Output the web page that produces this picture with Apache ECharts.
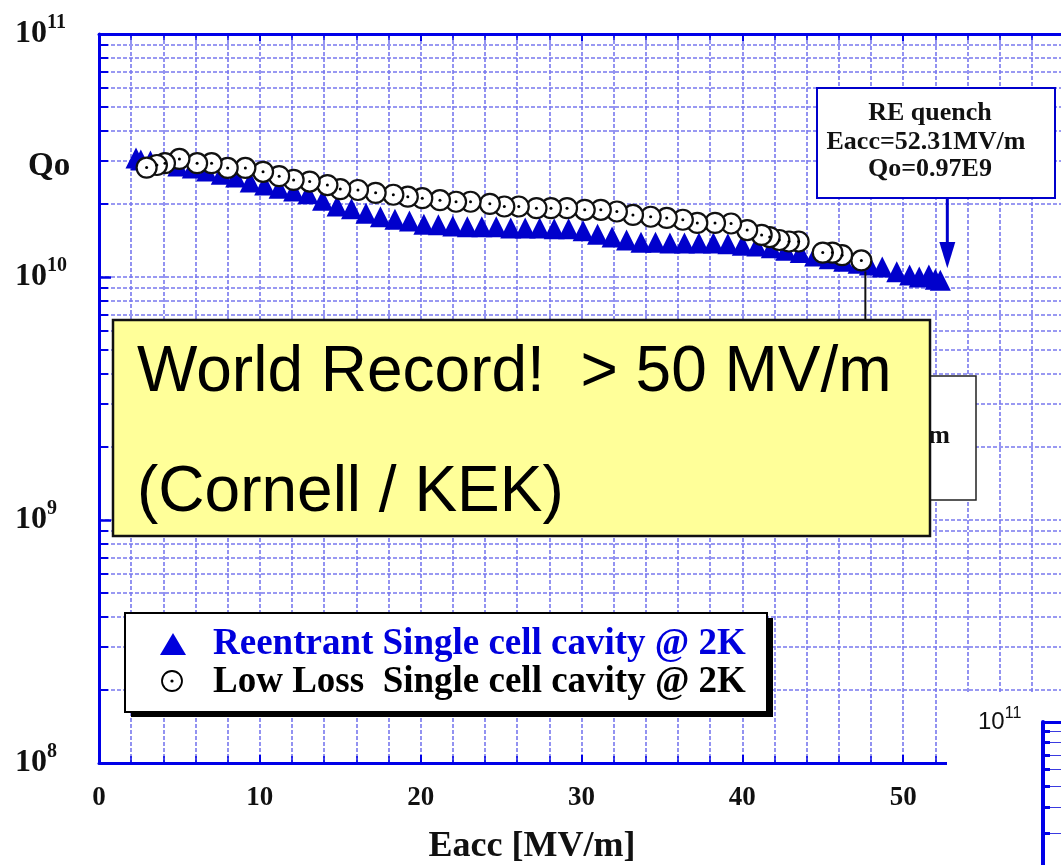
<!DOCTYPE html>
<html>
<head>
<meta charset="utf-8">
<title>Qo vs Eacc</title>
<script src="https://cdn.jsdelivr.net/npm/echarts@6/dist/echarts.min.js"></script>
<style>
  html, body { margin: 0; padding: 0; background: #fff; }
  #chart { width: 1061px; height: 865px; }
</style>
</head>
<body>
<div id="chart"></div>
<script>
// Reentrant single cell cavity @ 2K: Eacc [MV/m] and Qo
const reentrantEacc = [2.3, 2.6, 3.2, 4.0, 4.9, 5.8, 6.7, 7.6, 8.5, 9.4, 10.3, 11.2, 12.1, 13.0, 13.9, 14.8, 15.7, 16.6, 17.5, 18.4,
  19.3, 20.2, 21.1, 22.0, 22.9, 23.8, 24.7, 25.6, 26.5, 27.4, 28.3, 29.2, 30.1, 31.0, 31.9, 32.8, 33.7, 34.6, 35.5, 36.4,
  37.3, 38.2, 39.1, 40.0, 40.9, 41.8, 42.7, 43.6, 44.5, 45.4, 46.3, 47.2, 47.9, 48.7, 49.6, 50.4, 51.0, 51.6, 52.0, 52.31];
const reentrantQ = [3.09e10, 3.03e10, 3.00e10, 2.97e10, 2.86e10, 2.81e10, 2.73e10, 2.65e10, 2.58e10, 2.46e10, 2.39e10, 2.32e10,
  2.26e10, 2.20e10, 2.07e10, 1.96e10, 1.91e10, 1.83e10, 1.77e10, 1.73e10, 1.70e10, 1.65e10, 1.64e10, 1.62e10, 1.61e10,
  1.61e10, 1.61e10, 1.59e10, 1.59e10, 1.59e10, 1.58e10, 1.58e10, 1.55e10, 1.50e10, 1.46e10, 1.42e10, 1.39e10, 1.39e10,
  1.38e10, 1.38e10, 1.38e10, 1.38e10, 1.37e10, 1.35e10, 1.34e10, 1.32e10, 1.29e10, 1.26e10, 1.22e10, 1.19e10, 1.16e10,
  1.14e10, 1.12e10, 1.10e10, 1.05e10, 1.02e10, 1.00e10, 1.02e10, 0.98e10, 0.97e10];

// Low loss single cell cavity @ 2K
const lowLossEacc = [2.96, 3.6, 4.1, 5.0, 6.1, 7.0, 8.0, 9.1, 10.2, 11.2, 12.1, 13.1, 14.2, 15.0, 16.1, 17.2, 18.3, 19.2, 20.1,
  21.2, 22.2, 23.1, 24.3, 25.2, 26.1, 27.2, 28.1, 29.1, 30.2, 31.2, 32.2, 33.2, 34.3, 35.3, 36.3, 37.2, 38.3, 39.3, 40.3,
  41.2, 41.7, 42.3, 42.9, 43.5, 45.0, 45.6, 46.2, 47.4];
const lowLossQ = [2.82e10, 2.89e10, 2.94e10, 3.06e10, 2.94e10, 2.94e10, 2.81e10, 2.81e10, 2.71e10, 2.60e10, 2.51e10, 2.47e10,
  2.39e10, 2.30e10, 2.28e10, 2.22e10, 2.18e10, 2.14e10, 2.11e10, 2.07e10, 2.04e10, 2.04e10, 2.00e10, 1.95e10, 1.95e10,
  1.92e10, 1.92e10, 1.92e10, 1.89e10, 1.89e10, 1.86e10, 1.80e10, 1.77e10, 1.75e10, 1.72e10, 1.67e10, 1.67e10, 1.66e10,
  1.56e10, 1.49e10, 1.46e10, 1.42e10, 1.40e10, 1.40e10, 1.26e10, 1.26e10, 1.23e10, 1.17e10];

// Axis ranges
const eaccRange = [0, 60];
const eaccStep = 10;
const qoRange = [1e8, 1e11];

const serif = '"Liberation Serif", "Times New Roman", serif';
const sans = '"Liberation Sans", Arial, sans-serif';
const AXIS_BLUE = '#0000e8';
const GRID_BLUE = '#7878ee';
const MARK_BLUE = '#0000cc';

const gridLine = { color: GRID_BLUE, width: 1.6, type: [4, 2] };

const reentrantData = reentrantEacc.map((e, i) => [e, reentrantQ[i]]);
// earlier points stay on top of later ones
const lowLossData = lowLossEacc.map((e, i) => [e, lowLossQ[i]]).reverse();

const powerLabel = (family, weight, big, small, lh) => ({
  formatter: v => '{b|10}{s|' + Math.round(Math.log10(v)) + '}',
  align: 'left',
  rich: {
    b: { fontFamily: family, fontWeight: weight, fontSize: big, lineHeight: lh, color: '#111' },
    s: { fontFamily: family, fontWeight: weight, fontSize: small, lineHeight: small, verticalAlign: 'top', color: '#111' }
  }
});

const chart = echarts.init(document.getElementById('chart'), null, { renderer: 'canvas' });

chart.setOption({
  animation: false,
  backgroundColor: '#fff',
  grid: [
    { left: 99, top: 34, width: 965, height: 729, show: false, outerBoundsMode: 'none' },
    // small neighbouring panel at the lower right
    { left: 1043, top: 722, width: 300, height: 639, show: false, outerBoundsMode: 'none' }
  ],
  xAxis: [
    {
      type: 'value', gridIndex: 0, position: 'bottom',
      min: eaccRange[0], max: eaccRange[1], interval: eaccStep,
      axisLine: { onZero: false, lineStyle: { color: AXIS_BLUE, width: 3 } },
      axisTick: { inside: true, length: 8, lineStyle: { color: AXIS_BLUE, width: 2 } },
      minorTick: { show: true, splitNumber: 5, length: 7, lineStyle: { color: AXIS_BLUE, width: 1.5 } },
      splitLine: { show: true, lineStyle: gridLine },
      minorSplitLine: { show: true, lineStyle: gridLine },
      axisLabel: {
        margin: 22, showMaxLabel: false,
        fontFamily: serif, fontWeight: 'bold', fontSize: 27, color: '#111'
      }
    },
    {
      type: 'value', gridIndex: 0, position: 'top',
      min: eaccRange[0], max: eaccRange[1], interval: eaccStep,
      axisLine: { onZero: false, lineStyle: { color: AXIS_BLUE, width: 3 } },
      axisTick: { inside: true, length: 7, lineStyle: { color: AXIS_BLUE, width: 2 } },
      minorTick: { show: true, splitNumber: 5, length: 6, lineStyle: { color: AXIS_BLUE, width: 1.5 } },
      splitLine: { show: false },
      axisLabel: { show: false }
    },
    {
      type: 'value', gridIndex: 1, position: 'top', min: 0, max: 1, z: 100,
      axisLine: { onZero: false, lineStyle: { color: AXIS_BLUE, width: 3 } },
      axisTick: { show: false }, axisLabel: { show: false }, splitLine: { show: false }
    }
  ],
  yAxis: [
    {
      type: 'log', logBase: 10, gridIndex: 0,
      min: qoRange[0], max: qoRange[1],
      axisLine: { onZero: false, lineStyle: { color: AXIS_BLUE, width: 3 } },
      axisTick: { inside: true, length: 12, lineStyle: { color: AXIS_BLUE, width: 2.5 } },
      minorTick: { show: true, splitNumber: 9, length: 9, lineStyle: { color: AXIS_BLUE, width: 2 } },
      splitLine: { show: true, lineStyle: gridLine },
      minorSplitLine: { show: true, lineStyle: gridLine },
      axisLabel: Object.assign({ margin: 84 }, powerLabel(serif, 'bold', 32, 20, 42))
    },
    {
      type: 'log', logBase: 10, gridIndex: 1, z: 100,
      min: qoRange[0], max: qoRange[1],
      axisLine: { onZero: false, lineStyle: { color: AXIS_BLUE, width: 4 } },
      axisTick: { inside: true, length: 7, lineStyle: { color: AXIS_BLUE, width: 3 } },
      minorTick: { show: true, splitNumber: 9, length: 7, lineStyle: { color: AXIS_BLUE, width: 3 } },
      splitLine: { show: false },
      minorSplitLine: { show: true, lineStyle: { color: '#3a3ae0', width: 1 } },
      axisLabel: Object.assign({ margin: 65 }, powerLabel(sans, 'normal', 24, 16, 32))
    }
  ],
  series: [
    {
      name: 'Reentrant Single cell cavity @ 2K', type: 'scatter',
      xAxisIndex: 0, yAxisIndex: 0, z: 3,
      symbol: 'triangle', symbolSize: 21,
      itemStyle: { color: MARK_BLUE, opacity: 1 },
      data: reentrantData
    },
    {
      name: 'Low Loss  Single cell cavity @ 2K', type: 'scatter',
      xAxisIndex: 0, yAxisIndex: 0, z: 4,
      symbol: 'circle', symbolSize: 20,
      itemStyle: { color: '#fff', borderColor: '#111', borderWidth: 2.2, opacity: 1 },
      data: lowLossData
    },
    {
      name: 'Low Loss centre', type: 'scatter', silent: true,
      xAxisIndex: 0, yAxisIndex: 0, z: 5,
      symbol: 'circle', symbolSize: 3,
      itemStyle: { color: '#000', opacity: 1 },
      data: lowLossData
    }
  ]
});

// annotation positions follow the data through the axes
const quench = reentrantData[reentrantData.length - 1];
const lastLowLoss = [lowLossEacc[lowLossEacc.length - 1], lowLossQ[lowLossQ.length - 1]];
const qp = chart.convertToPixel({ gridIndex: 0 }, quench);
const lp = chart.convertToPixel({ gridIndex: 0 }, lastLowLoss);

const txt = (text, x, y, font, fill, align, z) => ({
  type: 'text', z: z,
  style: { text, x, y, font, fill, align, textAlign: align, verticalAlign: 'middle', textVerticalAlign: 'middle' }
});

const boldSerif = size => `bold ${size}px ${serif}`;
const ax = qp[0] + 7;

const graphics = [
  // axis titles
  txt('Qo', 28, 166, boldSerif(33), '#111', 'left', 50),
  txt('Eacc [MV/m]', 532, 847, boldSerif(36), '#111', 'center', 50),

  // RE quench callout
  { type: 'rect', z: 50, shape: { x: 817, y: 88, width: 238, height: 110 },
    style: { fill: '#fff', stroke: MARK_BLUE, lineWidth: 2 } },
  txt('RE quench', 930, 113, boldSerif(26), '#111', 'center', 51),
  txt('Eacc=52.31MV/m', 926, 142, boldSerif(26), '#111', 'center', 51),
  txt('Qo=0.97E9', 930, 169, boldSerif(26), '#111', 'center', 51),
  { type: 'line', z: 50, shape: { x1: ax, y1: 198, x2: ax, y2: 244 },
    style: { stroke: MARK_BLUE, lineWidth: 3 } },
  { type: 'polygon', z: 50, shape: { points: [[ax - 8, 242], [ax + 8, 242], [ax, qp[1] - 12]] },
    style: { fill: MARK_BLUE } },

  // LL quench callout, mostly covered by the yellow note
  { type: 'line', z: 51, shape: { x1: lp[0] + 4, y1: lp[1] + 11, x2: lp[0] + 4, y2: 322 },
    style: { stroke: '#111', lineWidth: 2 } },
  { type: 'rect', z: 52, shape: { x: 740, y: 376, width: 236, height: 124 },
    style: { fill: '#fff', stroke: '#222', lineWidth: 1.5 } },
  txt('LL quench', 858, 405, boldSerif(26), '#111', 'center', 53),
  txt('Eacc=47.40MV/m', 950, 436, boldSerif(26), '#111', 'right', 53),
  txt('Qo=1.17E10', 858, 466, boldSerif(26), '#111', 'center', 53),

  // yellow note
  { type: 'rect', z: 60, shape: { x: 113, y: 320, width: 817, height: 216 },
    style: { fill: '#ffff99', stroke: '#111', lineWidth: 2.5 } },
  txt('World Record!  > 50 MV/m', 137, 373, `64px ${sans}`, '#000', 'left', 61),
  txt('(Cornell / KEK)', 137, 493, `64px ${sans}`, '#000', 'left', 61),

  // legend with hard drop shadow
  { type: 'rect', z: 60, shape: { x: 131, y: 618, width: 642, height: 99 }, style: { fill: '#000' } },
  { type: 'rect', z: 61, shape: { x: 125, y: 613, width: 642, height: 99 },
    style: { fill: '#fff', stroke: '#000', lineWidth: 2 } },
  { type: 'polygon', z: 62, shape: { points: [[173, 633], [186, 655], [160, 655]] }, style: { fill: '#0000dd' } },
  txt('Reentrant Single cell cavity @ 2K', 213, 644, boldSerif(37), '#0000dd', 'left', 62),
  { type: 'circle', z: 62, shape: { cx: 172, cy: 681, r: 10 }, style: { fill: '#fff', stroke: '#000', lineWidth: 1.8 } },
  { type: 'circle', z: 63, shape: { cx: 172, cy: 681, r: 1.6 }, style: { fill: '#000' } },
  txt('Low Loss  Single cell cavity @ 2K', 213, 682, boldSerif(37), '#000', 'left', 62),

  // blank area of the neighbouring panel
  { type: 'rect', z: 90, shape: { x: 947, y: 693, width: 120, height: 180 }, style: { fill: '#fff' } }
];

chart.setOption({ graphic: graphics });
</script>
</body>
</html>
